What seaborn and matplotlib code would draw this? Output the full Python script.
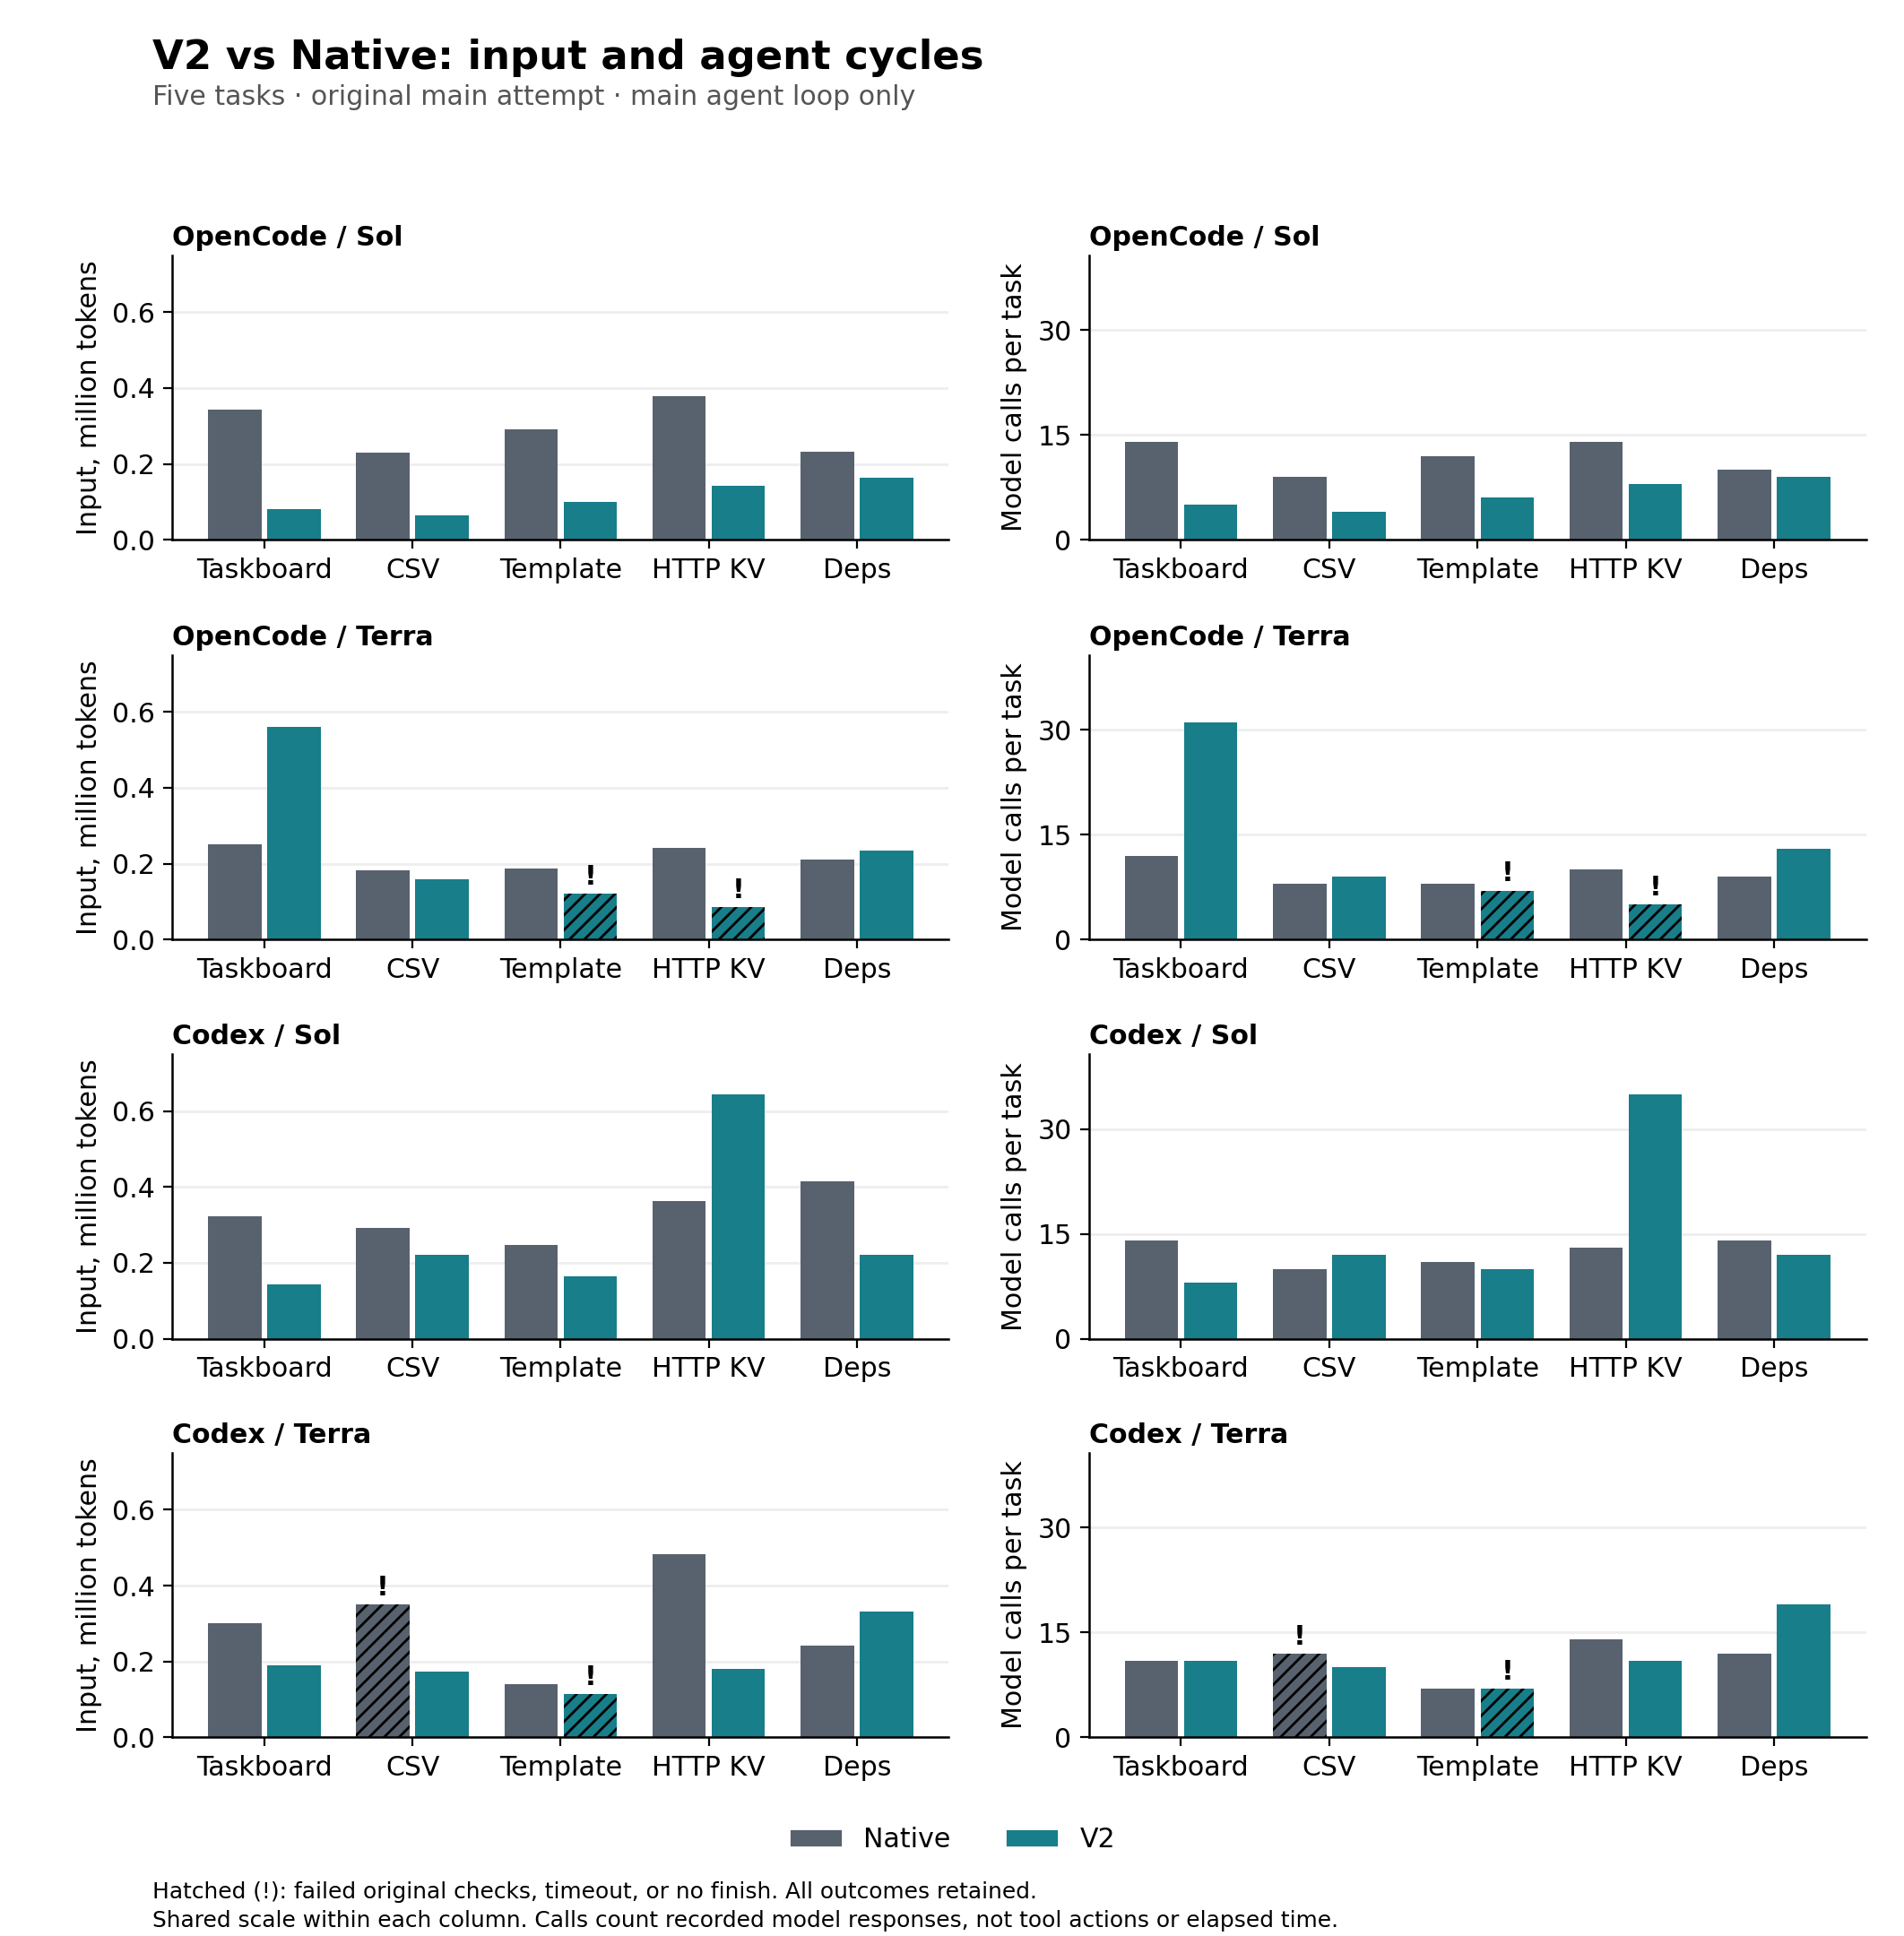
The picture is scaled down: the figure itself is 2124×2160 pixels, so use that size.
import pandas as pd
import matplotlib
matplotlib.use("Agg")
import matplotlib.pyplot as plt
from matplotlib.patches import Patch
from matplotlib.ticker import FormatStrFormatter
import seaborn as sns

# Задачи и панели
tasks = ["Taskboard", "CSV", "Template", "HTTP KV", "Deps"]
panels = ["OpenCode / Sol", "OpenCode / Terra", "Codex / Sol", "Codex / Terra"]

# Input, million tokens
oc_sol_input_native = [0.342, 0.230, 0.292, 0.379, 0.233]
oc_sol_input_v2 = [0.081, 0.065, 0.100, 0.143, 0.164]
oc_terra_input_native = [0.251, 0.182, 0.187, 0.241, 0.210]
oc_terra_input_v2 = [0.561, 0.159, 0.121, 0.086, 0.234]
cx_sol_input_native = [0.323, 0.292, 0.247, 0.363, 0.415]
cx_sol_input_v2 = [0.143, 0.221, 0.165, 0.644, 0.221]
cx_terra_input_native = [0.301, 0.351, 0.140, 0.483, 0.242]
cx_terra_input_v2 = [0.190, 0.173, 0.114, 0.180, 0.332]

# Model calls per task
oc_sol_calls_native = [14, 9, 12, 14, 10]
oc_sol_calls_v2 = [5, 4, 6, 8, 9]
oc_terra_calls_native = [12, 8, 8, 10, 9]
oc_terra_calls_v2 = [31, 9, 7, 5, 13]
cx_sol_calls_native = [14, 10, 11, 13, 14]
cx_sol_calls_v2 = [8, 12, 10, 35, 12]
cx_terra_calls_native = [11, 12, 7, 14, 12]
cx_terra_calls_v2 = [11, 10, 7, 11, 19]

# Неудачные попытки (штриховка и "!")
oc_sol_failed_native = [False] * 5
oc_sol_failed_v2 = [False] * 5
oc_terra_failed_native = [False] * 5
oc_terra_failed_v2 = [False, False, True, True, False]
cx_sol_failed_native = [False] * 5
cx_sol_failed_v2 = [False] * 5
cx_terra_failed_native = [False, True, False, False, False]
cx_terra_failed_v2 = [False, False, True, False, False]

input_series = [
    (oc_sol_input_native, oc_sol_input_v2),
    (oc_terra_input_native, oc_terra_input_v2),
    (cx_sol_input_native, cx_sol_input_v2),
    (cx_terra_input_native, cx_terra_input_v2),
]
calls_series = [
    (oc_sol_calls_native, oc_sol_calls_v2),
    (oc_terra_calls_native, oc_terra_calls_v2),
    (cx_sol_calls_native, cx_sol_calls_v2),
    (cx_terra_calls_native, cx_terra_calls_v2),
]
failed_series = [
    (oc_sol_failed_native, oc_sol_failed_v2),
    (oc_terra_failed_native, oc_terra_failed_v2),
    (cx_sol_failed_native, cx_sol_failed_v2),
    (cx_terra_failed_native, cx_terra_failed_v2),
]

variants = ["Native", "V2"]
colors = {"Native": "#58626e", "V2": "#177e8a"}

sns.set_theme(style="ticks")
plt.rcParams["font.family"] = ["DejaVu Sans"]
plt.rcParams["text.color"] = "black"
plt.rcParams["axes.labelcolor"] = "black"
plt.rcParams["xtick.color"] = "black"
plt.rcParams["ytick.color"] = "black"
plt.rcParams["hatch.linewidth"] = 1.0


def long_frame(native, v2):
    return pd.DataFrame({
        "task": tasks * 2,
        "variant": ["Native"] * len(tasks) + ["V2"] * len(tasks),
        "value": list(native) + list(v2),
    })


def draw_panel(ax, title, native, v2, failed, ymax, yticks, ylabel, fmt):
    df = long_frame(native, v2)
    sns.barplot(data=df, x="task", y="value", hue="variant", order=tasks,
                hue_order=variants, palette=colors, saturation=1,
                width=0.8, gap=0.1, linewidth=0, legend=False, ax=ax)

    # штриховка для неудачных попыток
    for container, flags in zip(ax.containers, failed):
        for bar, flag in zip(container, flags):
            if flag:
                bar.set_hatch("////")
                bar.set_edgecolor("black")
                bar.set_linewidth(0)
                ax.annotate("!", (bar.get_x() + bar.get_width() / 2, bar.get_height()),
                            xytext=(0, 1.5), textcoords="offset points",
                            ha="center", va="bottom", fontsize=11, fontweight="bold")

    ax.set_xlim(-0.62, 4.62)
    ax.set_ylim(0, ymax)
    ax.set_yticks(yticks)
    if fmt:
        ax.yaxis.set_major_formatter(FormatStrFormatter(fmt))
    ax.yaxis.grid(True, color="#eeeeee", linewidth=1.0)
    ax.set_axisbelow(True)
    ax.set_xlabel("")
    ax.set_ylabel(ylabel, fontsize=10.8)
    ax.set_title(title, loc="left", fontsize=10.8, fontweight="bold", pad=4)
    ax.tick_params(axis="both", labelsize=10.8, length=3.5, width=0.8, colors="black")
    sns.despine(ax=ax)
    for side in ["left", "bottom"]:
        ax.spines[side].set_color("black")
        ax.spines[side].set_linewidth(0.9)


fig = plt.figure(figsize=(10.62, 10.8), dpi=200)

bottoms = [0.7212, 0.5147, 0.3085, 0.1026]
height = 0.147
input_max = max(max(max(a), max(b)) for a, b in input_series) * 1.165
calls_max = max(max(max(a), max(b)) for a, b in calls_series) * 1.163

for i, title in enumerate(panels):
    ax_l = fig.add_axes([0.0906, bottoms[i], 0.4077, height])
    draw_panel(ax_l, title, *input_series[i], failed_series[i], input_max,
               [0, 0.2, 0.4, 0.6], "Input, million tokens", "%.1f")
    ax_r = fig.add_axes([0.572, bottoms[i], 0.408, height])
    draw_panel(ax_r, title, *calls_series[i], failed_series[i], calls_max,
               [0, 15, 30], "Model calls per task", None)

fig.text(0.080, 0.9644, "V2 vs Native: input and agent cycles",
         fontsize=16.2, fontweight="bold", va="baseline")
fig.text(0.080, 0.9458, "Five tasks \u00b7 original main attempt \u00b7 main agent loop only",
         fontsize=10.8, color="#555555", va="baseline")

handles = [Patch(facecolor=colors[v], label=v) for v in variants]
fig.legend(handles=handles, loc="center", bbox_to_anchor=(0.5, 0.0497), ncol=2,
           frameon=False, fontsize=10.8, handlelength=2.0, columnspacing=2.0)

fig.text(0.080, 0.0228,
         "Hatched (!): failed original checks, timeout, or no finish. All outcomes retained.",
         fontsize=8.95, va="center")
fig.text(0.080, 0.0081,
         "Shared scale within each column. Calls count recorded model responses, not tool actions or elapsed time.",
         fontsize=8.95, va="center")

fig.savefig("out.png", dpi=200)
